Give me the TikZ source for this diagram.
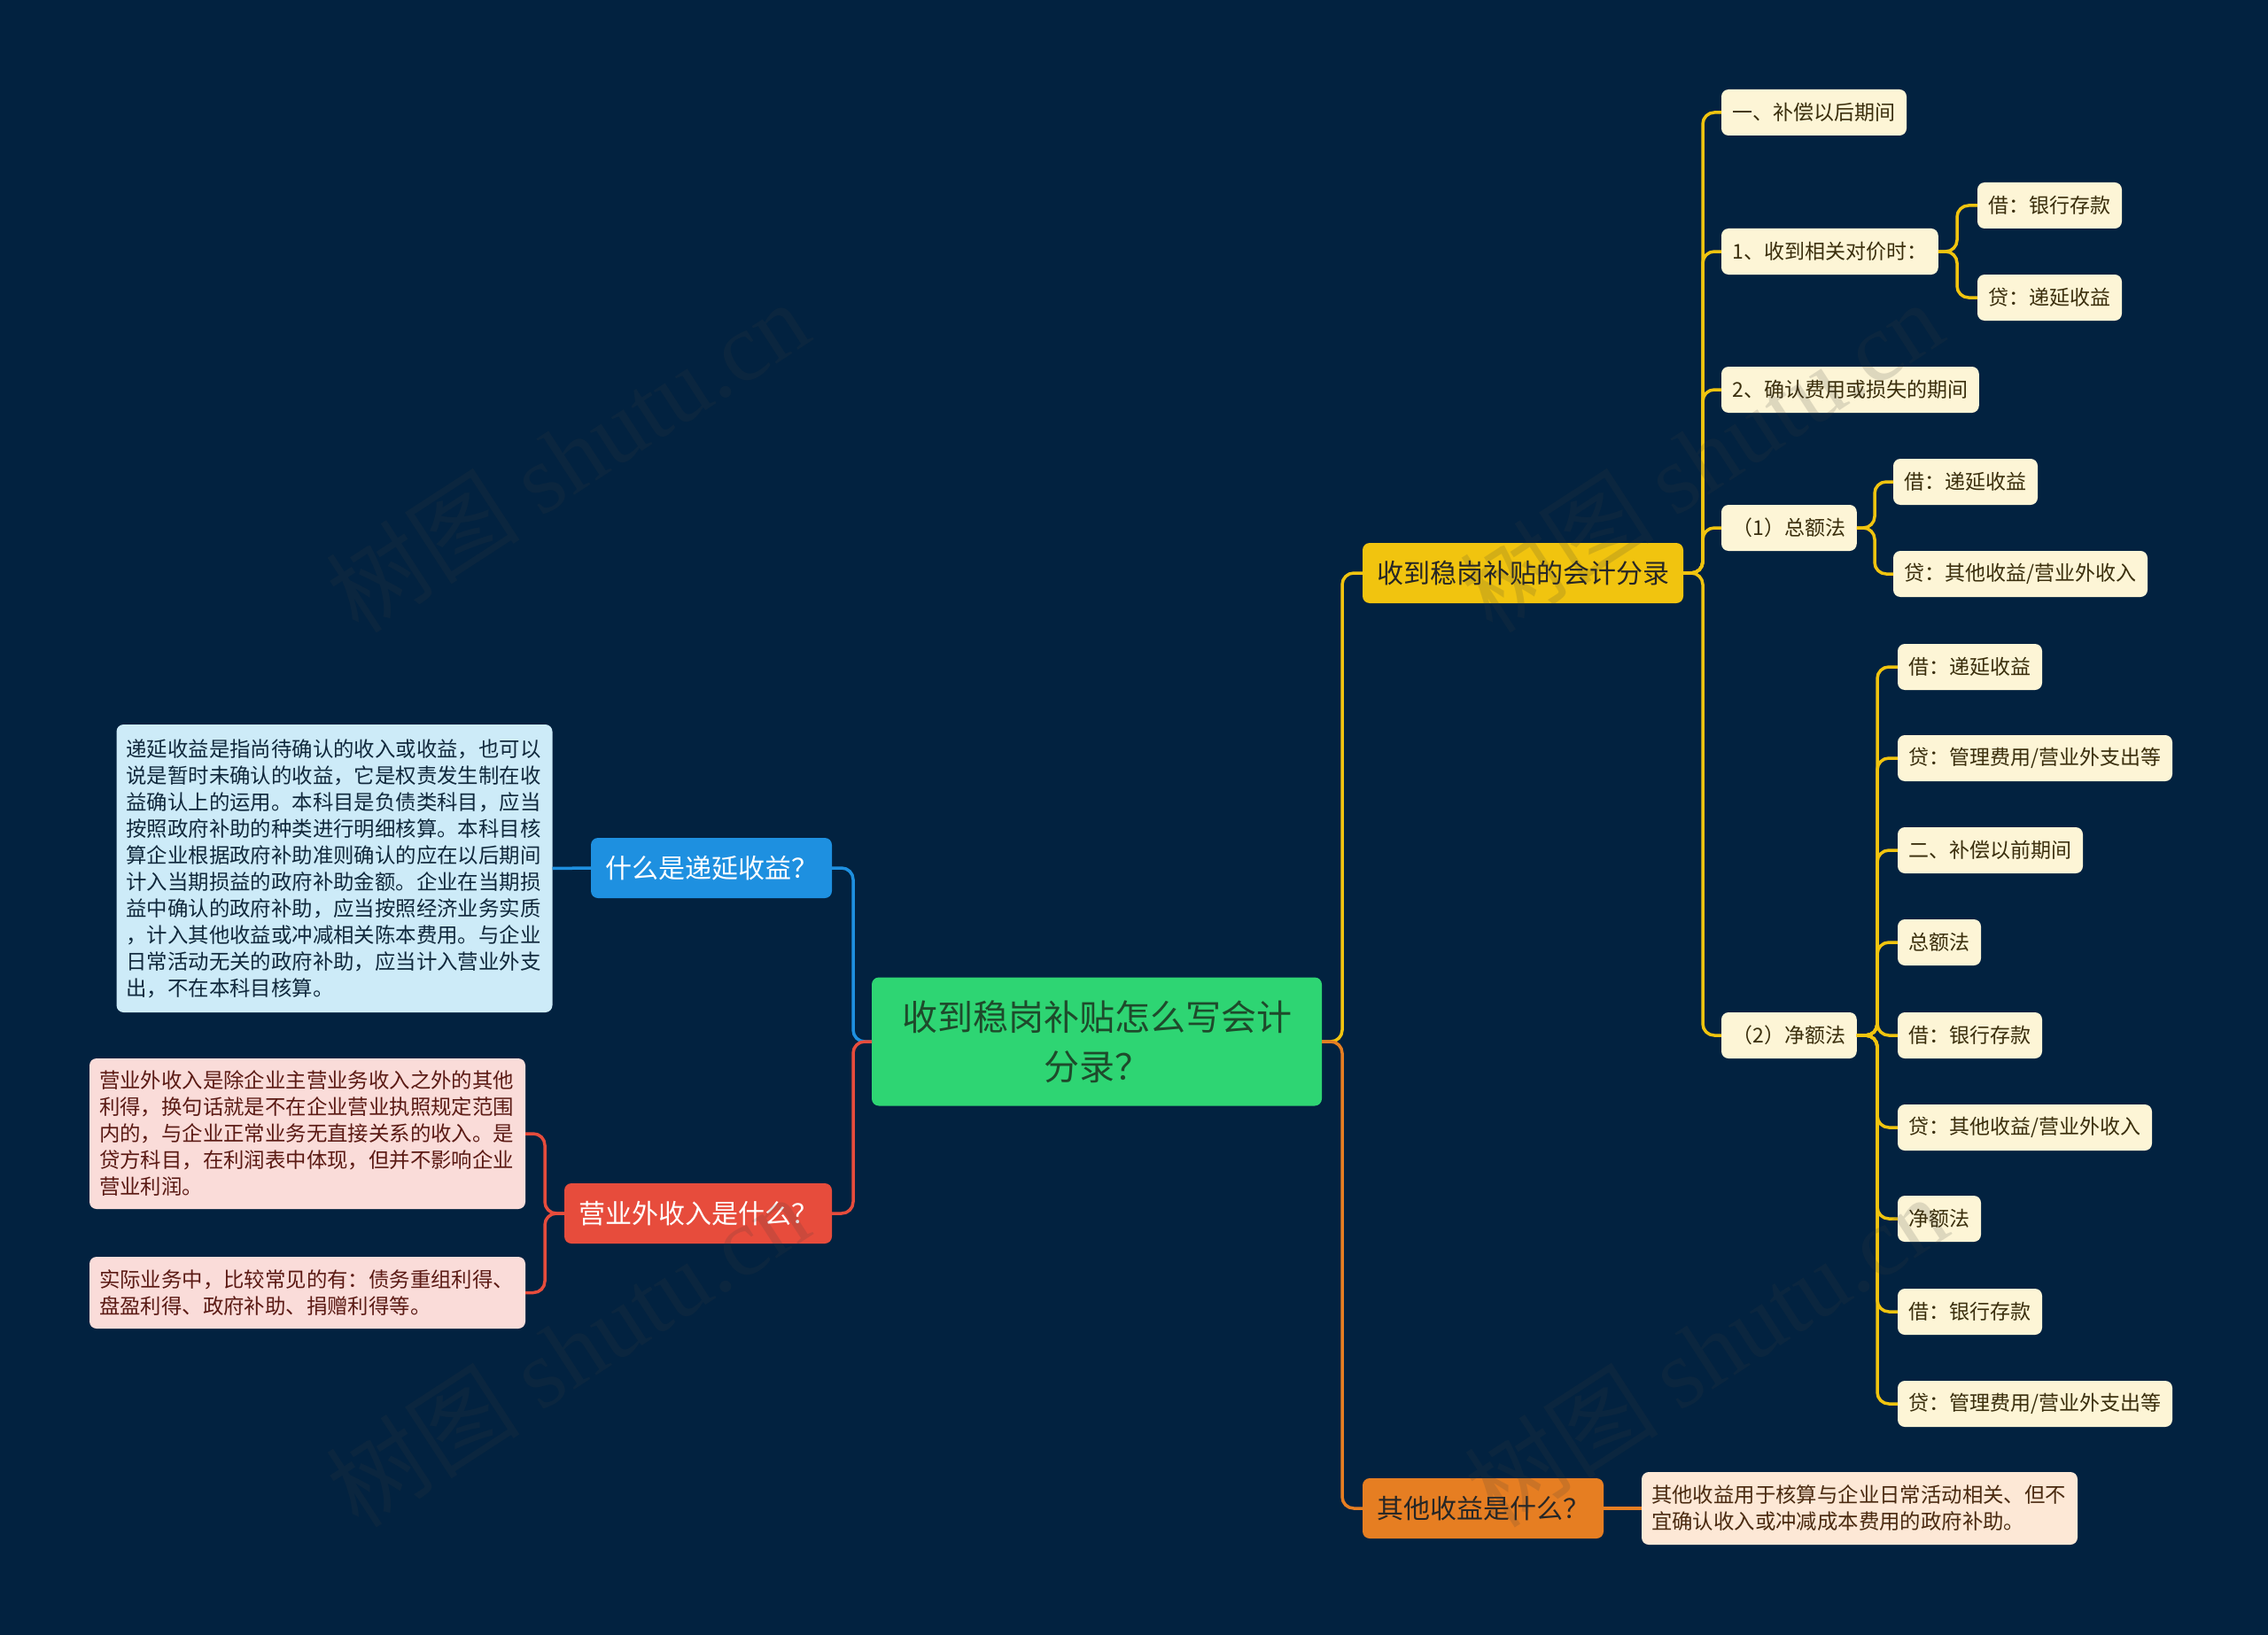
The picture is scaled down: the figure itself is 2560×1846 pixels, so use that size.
\documentclass[tikz,border=0pt]{standalone}
\usepackage{fontspec}
\setmainfont{Noto Sans CJK SC}
\newfontfamily\wmserif{Liberation Serif}
\definecolor{cbg}{RGB}{2,34,64}
\definecolor{cgreen}{HTML}{2ED573}
\definecolor{cgreentext}{HTML}{1E4A2B}
\definecolor{cyellow}{HTML}{F1C40F}
\definecolor{corange}{HTML}{E67E22}
\definecolor{cblue}{HTML}{1E90E0}
\definecolor{cred}{HTML}{E74C3C}
\definecolor{ccream}{HTML}{FDF5D6}
\definecolor{ccreamtext}{HTML}{3A2E0C}
\definecolor{clblue}{HTML}{CDEBF8}
\definecolor{clbluetext}{HTML}{10283C}
\definecolor{cpink}{HTML}{FADCD9}
\definecolor{cpinktext}{HTML}{5B1A14}
\definecolor{cpeach}{HTML}{FDE8D6}
\definecolor{cpeachtext}{HTML}{4A2A10}
\definecolor{cwm}{RGB}{60,60,60}
\begin{document}
\begin{tikzpicture}[x=1pt,y=-1pt,
  box/.style={rounded corners=8pt, inner ysep=0pt, outer sep=0pt},
  leaf/.style={box, fill=ccream, text=ccreamtext, font=\fontsize{23}{28}\selectfont, minimum height=52pt, inner xsep=12.5pt, anchor=west},
  major/.style={box, font=\fontsize{30}{36}\selectfont, minimum height=68pt, inner xsep=16pt},
  para/.style={box, align=left, text width=470pt, inner xsep=11pt, font=\fontsize{23.4}{30}\selectfont},
  conn/.style={line width=3.5pt, rounded corners=13pt},
  wm/.style={text=cwm, opacity=0.16, rotate=33, font=\fontsize{110}{120}\selectfont}
]
\useasboundingbox (0,0) rectangle (2560,1846);
\fill[cbg] (0,0) rectangle (2560,1846);

% root
\node[box, fill=cgreen, text=cgreentext, minimum width=508pt, minimum height=145pt, align=center,
  font=\fontsize{40}{55.5}\selectfont] (root) at (1238,1176) {收到稳岗补贴怎么写会计\\分录？};

% main branches
\node[major, fill=cblue, text=white, anchor=east] (q1) at (939,980) {什么是递延收益？};
\node[major, fill=cred, text=white, anchor=east] (q2) at (939,1370) {营业外收入是什么？};
\node[major, fill=cyellow, text=black!85, anchor=west] (q3) at (1538,647) {收到稳岗补贴的会计分录};
\node[major, fill=corange, text=black!85, anchor=west] (q4) at (1538,1703) {其他收益是什么？};

% paragraphs
\node[para, fill=clblue, text=clbluetext, minimum height=325pt] (p1) at (377.5,980.5) {递延收益是指尚待确认的收入或收益，也可以\\说是暂时未确认的收益，它是权责发生制在收\\益确认上的运用。本科目是负债类科目，应当\\按照政府补助的种类进行明细核算。本科目核\\算企业根据政府补助准则确认的应在以后期间\\计入当期损益的政府补助金额。企业在当期损\\益中确认的政府补助，应当按照经济业务实质\\，计入其他收益或冲减相关陈本费用。与企业\\日常活动无关的政府补助，应当计入营业外支\\出，不在本科目核算。};
\node[para, fill=cpink, text=cpinktext, minimum height=170pt] (pk1) at (347,1280) {营业外收入是除企业主营业务收入之外的其他\\利得，换句话就是不在企业营业执照规定范围\\内的，与企业正常业务无直接关系的收入。是\\贷方科目，在利润表中体现，但并不影响企业\\营业利润。};
\node[para, fill=cpink, text=cpinktext, minimum height=81pt] (pk2) at (347,1459.5) {实际业务中，比较常见的有：债务重组利得、\\盘盈利得、政府补助、捐赠利得等。};
\node[para, fill=cpeach, text=cpeachtext, minimum height=82pt] (op) at (2099,1703) {其他收益用于核算与企业日常活动相关、但不\\宜确认收入或冲减成本费用的政府补助。};

% leaves
\node[leaf] (L1) at (1943,127) {一、补偿以后期间};
\node[leaf] (L2) at (1943,284) {1、收到相关对价时：};
\node[leaf] (L2a) at (2232,232) {借：银行存款};
\node[leaf] (L2b) at (2232,336) {贷：递延收益};
\node[leaf] (L3) at (1943,440) {2、确认费用或损失的期间};
\node[leaf] (L4) at (1943,596) {（1）总额法};
\node[leaf] (L4a) at (2137,544) {借：递延收益};
\node[leaf] (L4b) at (2137,648) {贷：其他收益/营业外收入};
\node[leaf] (L5) at (1943,1169) {（2）净额法};
\node[leaf] (M1) at (2142,753) {借：递延收益};
\node[leaf] (M2) at (2142,856) {贷：管理费用/营业外支出等};
\node[leaf] (M3) at (2142,960) {二、补偿以前期间};
\node[leaf] (M4) at (2142,1064) {总额法};
\node[leaf] (M5) at (2142,1169) {借：银行存款};
\node[leaf] (M6) at (2142,1273) {贷：其他收益/营业外收入};
\node[leaf] (M7) at (2142,1376) {净额法};
\node[leaf] (M8) at (2142,1481) {借：银行存款};
\node[leaf] (M9) at (2142,1585) {贷：管理费用/营业外支出等};

% connectors root
\draw[conn, cyellow] (root.east) -- ([xshift=-23pt]q3.west |- root.east) |- (q3.west);
\draw[conn, corange] (root.east) -- ([xshift=-23pt]q4.west |- root.east) |- (q4.west);
\draw[conn, cblue] (root.west) -- ([xshift=24pt]q1.east |- root.west) |- (q1.east);
\draw[conn, cred] (root.west) -- ([xshift=24pt]q2.east |- root.west) |- (q2.east);

% left sub
\draw[conn, cblue] (q1.west) -- (p1.east);
\draw[conn, cred] (q2.west) -- ([xshift=22pt]pk1.east |- q2.west) |- (pk1.east);
\draw[conn, cred] (q2.west) -- ([xshift=22pt]pk1.east |- q2.west) |- (pk2.east);
\draw[conn, corange] (q4.east) -- (op.west);

% yellow tree
\foreach \c in {L1,L2,L3,L4,L5}
  \draw[conn, cyellow] (q3.east) -- ([xshift=-21pt]L1.west |- q3.east) |- (\c.west);
\foreach \c in {L2a,L2b}
  \draw[conn, cyellow] (L2.east) -- ([xshift=-23pt]L2a.west |- L2.east) |- (\c.west);
\foreach \c in {L4a,L4b}
  \draw[conn, cyellow] (L4.east) -- ([xshift=-21pt]L4a.west |- L4.east) |- (\c.west);
\foreach \c in {M1,M2,M3,M4,M5,M6,M7,M8,M9}
  \draw[conn, cyellow] (L5.east) -- ([xshift=-23pt]M1.west |- L5.east) |- (\c.west);

% watermarks
\node[wm] (w1) at (640,515) {树图 {\wmserif shutu.cn}};
\node[wm] (w2) at (1920,515) {树图 {\wmserif shutu.cn}};
\node[wm] (w3) at (640,1525) {树图 {\wmserif shutu.cn}};
\node[wm] (w4) at (1925,1525) {树图 {\wmserif shutu.cn}};
\end{tikzpicture}
\end{document}
